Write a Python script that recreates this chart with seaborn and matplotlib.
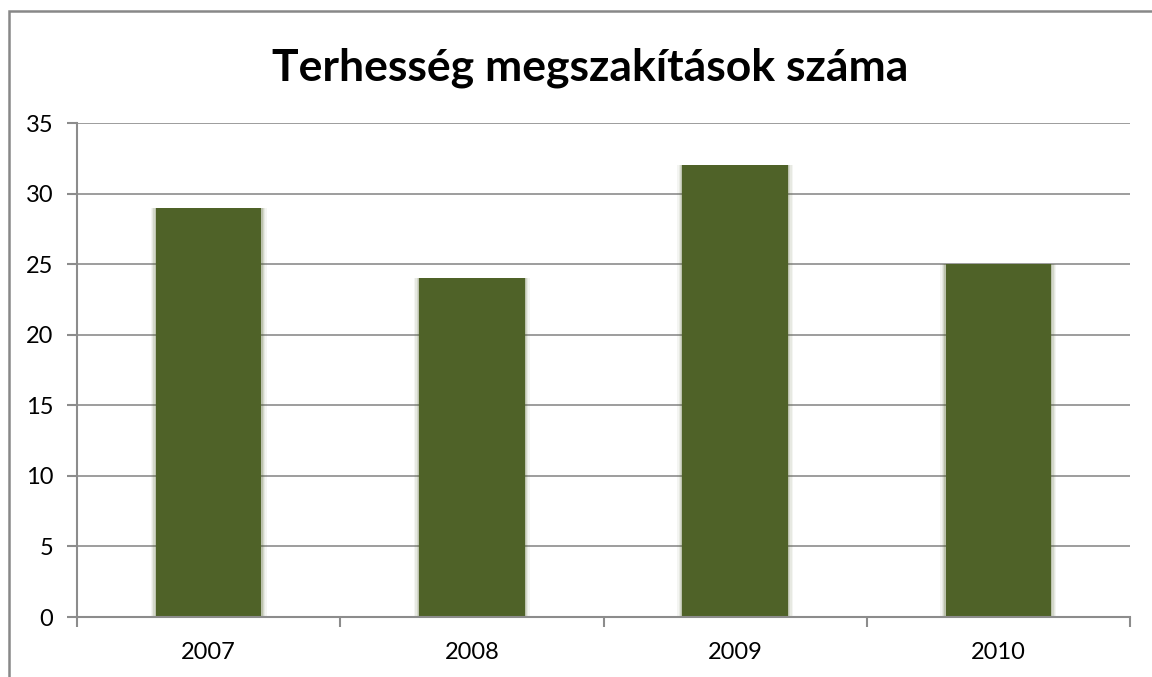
import matplotlib
matplotlib.use("Agg")
import matplotlib.pyplot as plt
import seaborn as sns
import pandas as pd
from matplotlib.patches import Rectangle

years = ["2007", "2008", "2009", "2010"]
values = [29, 24, 32, 25]
yticks = [0, 5, 10, 15, 20, 25, 30, 35]
title = "Terhesség megszakítások száma"

sns.set_style("white")
plt.rcParams['font.family'] = ['Lato', 'DejaVu Sans']
plt.rcParams['text.color'] = 'black'
plt.rcParams['xtick.color'] = 'black'
plt.rcParams['ytick.color'] = 'black'

df = pd.DataFrame({"year": years, "value": values})

fig = plt.figure(figsize=(11.52, 6.77), dpi=100)
ax = fig.add_axes([77/1152, 1-617/677, (1130-77)/1152, (617-123)/677])

green = "#4F6228"
# soft shadow layers
for w, a in [(0.44, 0.06), (0.43, 0.08), (0.42, 0.12), (0.41, 0.18)]:
    sns.barplot(data=df, x="year", y="value", color=green, width=w,
                alpha=a, saturation=1, ax=ax, linewidth=0, zorder=2)
sns.barplot(data=df, x="year", y="value", color=green, width=0.40,
            saturation=1, ax=ax, linewidth=0, zorder=3)

ax.set_xlim(-0.5, len(years) - 0.5)
ax.set_ylim(0, 35)
ax.set_yticks(yticks)
ax.set_yticklabels([str(t) for t in yticks], fontsize=17)
ax.set_xticks(range(len(years)))
ax.set_xticklabels(years, fontsize=17)
ax.set_xlabel("")
ax.set_ylabel("")

grid_c = "#8C8C8C"
for t in yticks[1:]:
    ax.axhline(t, color=grid_c, linewidth=1.2, zorder=1)

for s in ["top", "right"]:
    ax.spines[s].set_visible(False)
ax.spines["left"].set_color(grid_c)
ax.spines["bottom"].set_color(grid_c)
ax.spines["left"].set_linewidth(1.5)
ax.spines["bottom"].set_linewidth(1.5)
ax.spines["bottom"].set_zorder(5)

ax.tick_params(axis="y", which="major", left=True, length=7, width=1.5,
               color=grid_c, pad=10, labelcolor="black")
ax.tick_params(axis="x", which="major", bottom=False, length=0, pad=18,
               labelcolor="black")
ax.set_xticks([i - 0.5 for i in range(len(years) + 1)], minor=True)
ax.tick_params(axis="x", which="minor", bottom=True, length=7, width=1.5,
               color=grid_c)

fig.text(590/1152, 1-68/677, title, ha="center", va="center",
         fontsize=32, fontweight="bold", color="black")

# outer chart border (cropped at right and bottom)
fig.patches.append(Rectangle((8.5/1152, -0.05), 1.2, 1-11/677 + 0.05,
                             transform=fig.transFigure, fill=False,
                             edgecolor="#888888", linewidth=1.8))

fig.savefig("out.png", dpi=100)
